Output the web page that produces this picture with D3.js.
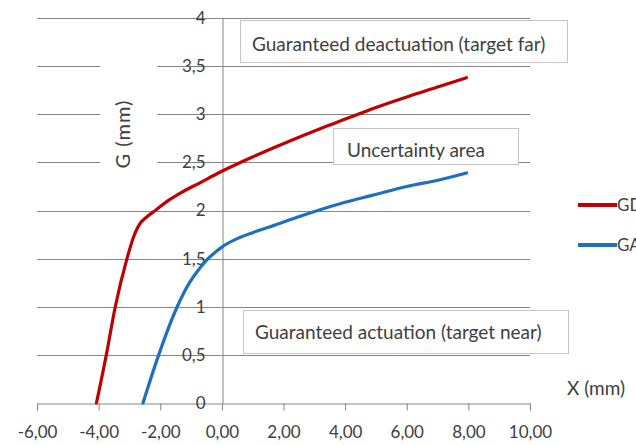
<!DOCTYPE html>
<html>
<head>
<meta charset="utf-8">
<script src="https://cdn.jsdelivr.net/npm/d3@7"></script>
<style>
  html, body { margin: 0; padding: 0; background: #fff; }
  svg { display: block; font-family: Lato, "Open Sans", sans-serif; }
</style>
</head>
<body>
<svg id="chart" width="636" height="445"></svg>
<script>
// ---- data ----
const seriesNames = ["GD", "GA"];
const gdX = [-4.07, -3.75, -3.46, -3.08, -2.86, -2.62, -2.45, -2.16, -1.80, -1.35, -0.70, -0.05, 1.02, 2.11, 3.19, 4.10, 4.91, 6.00, 7.08, 7.94];
const gdG = [0, 0.5, 1.0, 1.5, 1.73, 1.88, 1.93, 2.00, 2.09, 2.18, 2.29, 2.40, 2.56, 2.71, 2.85, 2.96, 3.06, 3.18, 3.29, 3.38];
const gaX = [-2.56, -2.05, -1.45, -1.05, -0.72, -0.45, -0.20, 0, 0.38, 1.00, 1.46, 2.54, 3.83, 4.91, 6.00, 7.08, 7.94];
const gaG = [0, 0.5, 1.0, 1.25, 1.40, 1.50, 1.57, 1.62, 1.69, 1.77, 1.82, 1.94, 2.07, 2.16, 2.25, 2.32, 2.39];
const xTicks = [-6, -4, -2, 0, 2, 4, 6, 8, 10];
const yTicks = [0, 0.5, 1, 1.5, 2, 2.5, 3, 3.5, 4];
const annotations = ["Guaranteed deactuation (target far)", "Uncertainty area", "Guaranteed actuation (target near)"];
const xTitle = "X (mm)";
const yTitle = "G (mm)";

// ---- layout ----
const svg = d3.select("#chart");
const x = d3.scaleLinear().domain([-6, 10]).range([37, 530]);
const y = d3.scaleLinear().domain([0, 4]).range([403, 18]);
const txt = "#404040";
const gridC = "#858585";
const fmtX = v => d3.format(".2f")(v).replace("−", "-").replace(".", ",");
const fmtY = v => String(v).replace(".", ",");

// gridlines
svg.append("g").selectAll("line").data(yTicks.filter(v => v > 0)).join("line")
  .attr("x1", x(-6)).attr("x2", x(10))
  .attr("y1", d => Math.round(y(d)) + 0.5).attr("y2", d => Math.round(y(d)) + 0.5)
  .attr("stroke", gridC).attr("stroke-width", 1);

// y title with white background breaking gridlines
svg.append("rect").attr("x", 100).attr("y", 40).attr("width", 57).attr("height", 150).attr("fill", "#fff");
svg.append("text")
  .attr("transform", `translate(130,134) rotate(-90)`)
  .attr("text-anchor", "middle")
  .attr("font-size", 20).attr("letter-spacing", 1).attr("fill", txt)
  .text(yTitle);

// x axis
const xAxis = svg.append("g").attr("transform", `translate(0,${Math.round(y(0)) + 0.5})`)
  .call(d3.axisBottom(x).tickValues(xTicks).tickFormat(fmtX).tickSize(7).tickPadding(15));
xAxis.select(".domain").attr("stroke", gridC);
xAxis.selectAll(".tick line").attr("stroke", gridC);
xAxis.selectAll("text").attr("font-size", 17).attr("fill", txt).attr("font-family", "Lato, sans-serif");

// y axis
const yAxis = svg.append("g").attr("transform", `translate(${Math.round(x(0)) + 0.5},0)`)
  .call(d3.axisLeft(y).tickValues(yTicks).tickFormat(fmtY).tickSize(0).tickPadding(17));
yAxis.select(".domain").attr("stroke", gridC);
yAxis.selectAll("text").attr("font-size", 17).attr("fill", txt).attr("font-family", "Lato, sans-serif");

// annotation boxes
const boxes = [
  {x0: 240, y0: 20, x1: 567, y1: 62, tx: 252, ty: 44},
  {x0: 333, y0: 128, x1: 518, y1: 164, tx: 347, ty: 150},
  {x0: 243, y0: 310, x1: 568, y1: 353, tx: 255, ty: 332}
];
boxes.forEach((b, i) => {
  svg.append("rect").attr("x", b.x0 + 0.5).attr("y", b.y0 + 0.5)
    .attr("width", b.x1 - b.x0).attr("height", b.y1 - b.y0)
    .attr("fill", "#fff").attr("stroke", "#c4c4c4").attr("stroke-width", 1);
  svg.append("text").attr("x", b.tx).attr("y", b.ty).attr("dy", "0.35em")
    .attr("font-size", 19).attr("fill", txt).text(annotations[i]);
});

// lines
const line = d3.line().x(d => x(d[0])).y(d => y(d[1])).curve(d3.curveMonotoneX);
const colors = ["#c00000", "#1f6fbf"];
const data = [d3.zip(gdX, gdG), d3.zip(gaX, gaG)];
data.forEach((pts, i) => {
  svg.append("path").datum(pts).attr("d", line)
    .attr("fill", "none").attr("stroke", colors[i]).attr("stroke-width", 3.2)
    .attr("stroke-linejoin", "round").attr("stroke-linecap", "round");
});

// x title
svg.append("text").attr("x", 567).attr("y", 388).attr("dy", "0.35em")
  .attr("font-size", 19).attr("fill", txt).text(xTitle);

// legend
const legY = [205, 245];
seriesNames.forEach((n, i) => {
  svg.append("line").attr("x1", 578).attr("x2", 617).attr("y1", legY[i]).attr("y2", legY[i])
    .attr("stroke", colors[i]).attr("stroke-width", 4);
  svg.append("text").attr("x", 617).attr("y", legY[i]).attr("dy", "0.35em")
    .attr("font-size", 17).attr("fill", txt).text(n);
});
</script>
</body>
</html>
